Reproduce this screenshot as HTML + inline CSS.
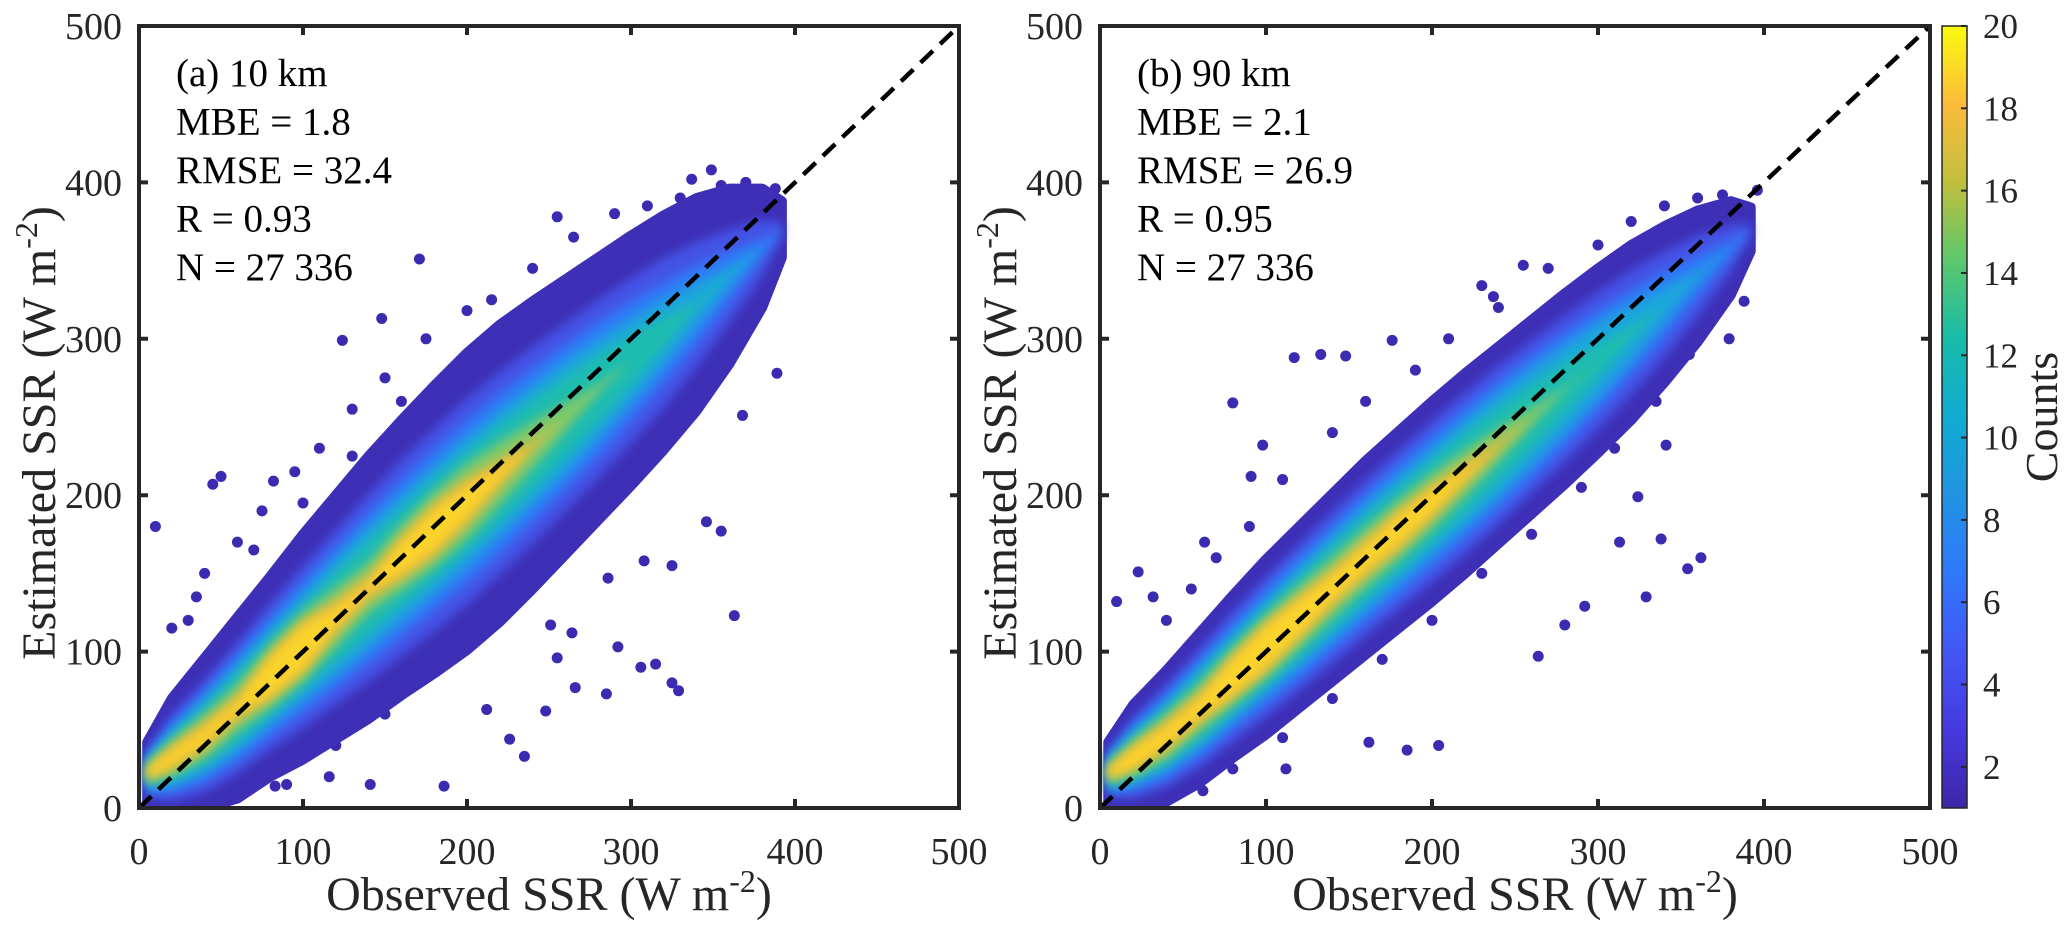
<!DOCTYPE html>
<html><head><meta charset="utf-8"><style>
html,body{margin:0;padding:0;background:#fff;}
svg{display:block;}
text{font-family:"Liberation Serif","Times New Roman","DejaVu Serif",serif;}
</style></head><body>
<svg id="chart" width="2067" height="930" viewBox="0 0 2067 930" xmlns="http://www.w3.org/2000/svg" font-family="Liberation Serif, serif">
<defs>
<linearGradient id="parula" x1="0" y1="1" x2="0" y2="0">
<stop offset="0" stop-color="#3e26a8"/><stop offset="0.1" stop-color="#4639e0"/><stop offset="0.2" stop-color="#4257f5"/>
<stop offset="0.3" stop-color="#2f78fb"/><stop offset="0.4" stop-color="#2094e2"/><stop offset="0.5" stop-color="#10acd2"/>
<stop offset="0.6" stop-color="#16bca8"/><stop offset="0.7" stop-color="#5cc86c"/><stop offset="0.8" stop-color="#c0bf3c"/>
<stop offset="0.9" stop-color="#fdbb3b"/><stop offset="1" stop-color="#f9fb0e"/>
</linearGradient>
<filter id="blur" x="-20%" y="-20%" width="140%" height="140%"><feGaussianBlur stdDeviation="5"/></filter>
<clipPath id="clipA"><rect x="139" y="26" width="820" height="782"/></clipPath>
<clipPath id="clipB"><rect x="1100" y="26" width="830" height="782"/></clipPath>
</defs>
<g id="panelA"></g>
<g id="panelB"></g>
<g id="cbar"></g>
</svg>
<script>
// ---- data ----
const tickVals = [0,100,200,300,400,500];
const cbTicks = [2,4,6,8,10,12,14,16,18,20];
const cbMin = 1, cbMax = 20;
const binX = [5,20,40,60,80,100,120,140,160,180,200,220,240,260,280,300,320,340,360,380,392];
const centerA = [22,32,46,64,84,103,122,141,160,178,196,214,232,250,268,286,304,322,340,358,370];
const centerB = [22,32,46,64,84,103,122,141,160,178,196,214,232,250,268,286,304,322,340,358,370];
const levelColors = ["#3d2fb6","#4452e6","#2e7bf7","#1aa5dd","#1cbcb0","#7ec96a","#e8b93a","#fbd42a"];
const hwA1 = [20,38,50,58,64,72,78,84,88,92,95,95,92,88,84,80,75,68,56,38,18];
const hwA2 = [15,28,36,42,47,52,56,60,63,65,66,65,63,60,57,53,48,40,30,18,5];
const hwA3 = [12,22,29,34,38,42,45,48,50,51,52,51,49,46,43,38,32,25,16,6,0];
const hwA4 = [10,18,24,28,31,34,37,39,40,41,41,40,38,36,32,27,21,14,6,0,0];
const hwA5 = [8,14,19,22,25,27,29,30,31,32,32,31,29,26,22,17,10,2,0,0,0];
const hwA6 = [6,11,14,15,20,22,19,16,21,24,24,20,15,9,3,0,0,0,0,0,0];
const hwA7 = [4,8,9,8,15,17,11,8,14,17,15,9,3,0,0,0,0,0,0,0,0];
const hwA8 = [2,4,4,3,11,13,5,2,9,12,9,3,0,0,0,0,0,0,0,0,0];
const hwB1 = [20,34,42,48,52,56,58,60,62,63,64,64,63,62,61,59,56,50,42,30,14];
const hwB2 = [15,26,33,38,42,45,47,49,50,51,52,52,51,49,47,44,40,34,26,15,4];
const hwB3 = [12,21,27,31,34,37,39,40,41,42,42,42,41,39,36,32,27,21,13,5,0];
const hwB4 = [10,17,22,26,28,30,32,33,34,34,34,34,33,31,28,24,18,11,3,0,0];
const hwB5 = [8,14,18,21,23,25,26,27,27,27,27,26,24,21,17,11,5,0,0,0,0];
const hwB6 = [6,11,14,15,18,20,20,19,19,19,18,15,11,6,1,0,0,0,0,0,0];
const hwB7 = [4,8,10,10,14,16,14,12,12,13,11,7,3,0,0,0,0,0,0,0,0];
const hwB8 = [2,5,5,5,10,12,10,7,7,8,6,2,0,0,0,0,0,0,0,0,0];
const outA_x = [10,148,124,171,389,363,329,306,315,325,346,355,285,266,235,186,141,82,50,45,349,337,255,388,292,264,325,308,368,286,255,248,226,116,83,212,251,
  30,40,60,75,95,110,130,150,175,200,215,240,265,290,310,330,355,370,380,20,35,70,100,130,160,190,220,250,280,300,320,345,365,150,180,205,90,120];
const outA_y = [180,313,299,351,278,123,75,90,92,80,183,177,73,77,33,14,15,209,212,207,408,402,378,396,103,112,155,158,251,147,96,62,44,20,14,63,117,
  120,150,170,190,215,230,255,275,300,318,325,345,365,380,385,390,398,400,395,115,135,165,195,225,260,280,305,330,345,360,370,385,390,60,90,110,15,40];
const outB_x = [80,117,133,148,98,91,313,338,362,354,329,292,280,264,204,185,162,112,255,388,396,379,341,324,32,10,23,63,230,237,176,62,
  40,55,70,90,110,140,160,190,210,240,270,300,320,340,360,375,20,50,80,110,140,170,200,230,260,290,310,335,355,370];
const outB_y = [259,288,290,289,232,212,170,172,160,153,135,129,117,97,40,37,42,25,347,324,395,300,232,199,135,132,151,170,334,327,299,11,
  120,140,160,180,210,240,260,280,300,320,345,360,375,385,390,392,10,12,25,45,70,95,120,150,175,205,230,260,290,320];
const infoA = ["(a)  10 km","MBE = 1.8","RMSE = 32.4","R = 0.93","N = 27 336"];
const infoB = ["(b)  90 km","MBE = 2.1","RMSE = 26.9","R = 0.95","N = 27 336"];

const NS = "http://www.w3.org/2000/svg";
const FF = '"Liberation Serif", "Times New Roman", serif';
function mk(tag, attrs, parent){ const e=document.createElementNS(NS,tag); for(const k in attrs) e.setAttribute(k,attrs[k]); if(tag==='text') e.style.fontFamily=FF; parent.appendChild(e); return e; }

function panel(g, x0, x1, y0, y1, clipId, center, levels, outX, outY, info, letter){
  const X = v => x0 + (x1-x0)*v/500;
  const Y = v => y1 - (y1-y0)*v/500;
  const data = mk('g',{'clip-path':'url(#'+clipId+')'},g);
  
  
  outX.forEach((v,i)=>{
    const c = mk('circle',{cx:X(v),cy:Y(outY[i]),r:5.5,fill:'#3b2bb0'},data);
    
    
  });
  levels.forEach((hw,li)=>{
    let up=[],dn=[];
    binX.forEach((bx,i)=>{ up.push(X(bx)+','+Y(center[i]+hw[i])); dn.unshift(X(bx)+','+Y(Math.max(0,center[i]-hw[i]))); });
    const p = mk('polygon',{points:up.concat(dn).join(' '),fill:levelColors[li]},data);
    if(li===0){ p.setAttribute('stroke',levelColors[0]); p.setAttribute('stroke-width','10'); p.setAttribute('stroke-linejoin','round'); }
    else p.setAttribute('filter','url(#blur)');
    
    
  });
  const dl = mk('line',{x1:X(0),y1:Y(0),x2:X(500),y2:Y(500),stroke:'#000','stroke-width':4.5,'stroke-dasharray':'17 10'},g);
  
  
  const fr = mk('rect',{x:x0,y:y0,width:x1-x0,height:y1-y0,fill:'none',stroke:'#262626','stroke-width':4},g);
  
  
  tickVals.forEach(t=>{
    const tk = mk('path',{d:`M${X(t)},${y1}v-9M${X(t)},${y0}v9M${x0},${Y(t)}h9M${x1},${Y(t)}h-9`,stroke:'#262626','stroke-width':4},g);
    
    
    const xl = mk('text',{x:X(t),y:y1+56,'font-size':38,'text-anchor':'middle',fill:'#262626'},g);
    xl.textContent=t;
    
    
    const yl = mk('text',{x:x0-17,y:Y(t)+13,'font-size':38,'text-anchor':'end',fill:'#262626'},g);
    yl.textContent=t;
    
    
  });
  info.forEach((s,i)=>{
    const t = mk('text',{x:x0+37,y:86+i*48.5,'font-size':39,fill:'#000'},g);
    t.textContent=s;
    
    
  });
  const xt = mk('text',{x:(x0+x1)/2,y:910,'font-size':48,'text-anchor':'middle',fill:'#262626'},g);
  xt.innerHTML='Observed SSR (W m<tspan dy="-18" font-size="32">-2</tspan><tspan dy="18">)</tspan>';
  
  
  const yt = mk('text',{x:0,y:0,'font-size':48,'text-anchor':'middle',fill:'#262626',transform:`translate(${x0-84},${(y0+y1)/2+16}) rotate(-90)`},g);
  yt.innerHTML='Estimated SSR (W m<tspan dy="-18" font-size="32">-2</tspan><tspan dy="18">)</tspan>';
  
  
}
panel(document.getElementById('panelA'),139,959,26,808,'clipA',centerA,[hwA1,hwA2,hwA3,hwA4,hwA5,hwA6,hwA7,hwA8],outA_x,outA_y,infoA,'a');
panel(document.getElementById('panelB'),1100,1930,26,808,'clipB',centerB,[hwB1,hwB2,hwB3,hwB4,hwB5,hwB6,hwB7,hwB8],outB_x,outB_y,infoB,'b');

const cb = document.getElementById('cbar');
const cy0=26, cy1=808, cx0=1942, cx1=1967;
const CY = v => cy1 - (cy1-cy0)*(v-cbMin)/(cbMax-cbMin);
const bar = mk('rect',{x:cx0,y:cy0,width:cx1-cx0,height:cy1-cy0,fill:'url(#parula)',stroke:'#262626','stroke-width':1.5},cb);


cbTicks.forEach(t=>{
  const tk = mk('line',{x1:cx1,x2:cx1-6,y1:CY(t),y2:CY(t),stroke:'#262626','stroke-width':2},cb);
  
  
  const tl = mk('text',{x:cx1+16,y:CY(t)+12,'font-size':35,fill:'#262626'},cb);
  tl.textContent=t;
  
  
});
const ct = mk('text',{x:0,y:0,'font-size':46,'text-anchor':'middle',fill:'#262626',transform:'translate(2057,417) rotate(-90)'},cb);
ct.textContent='Counts';


</script>
</body></html>
